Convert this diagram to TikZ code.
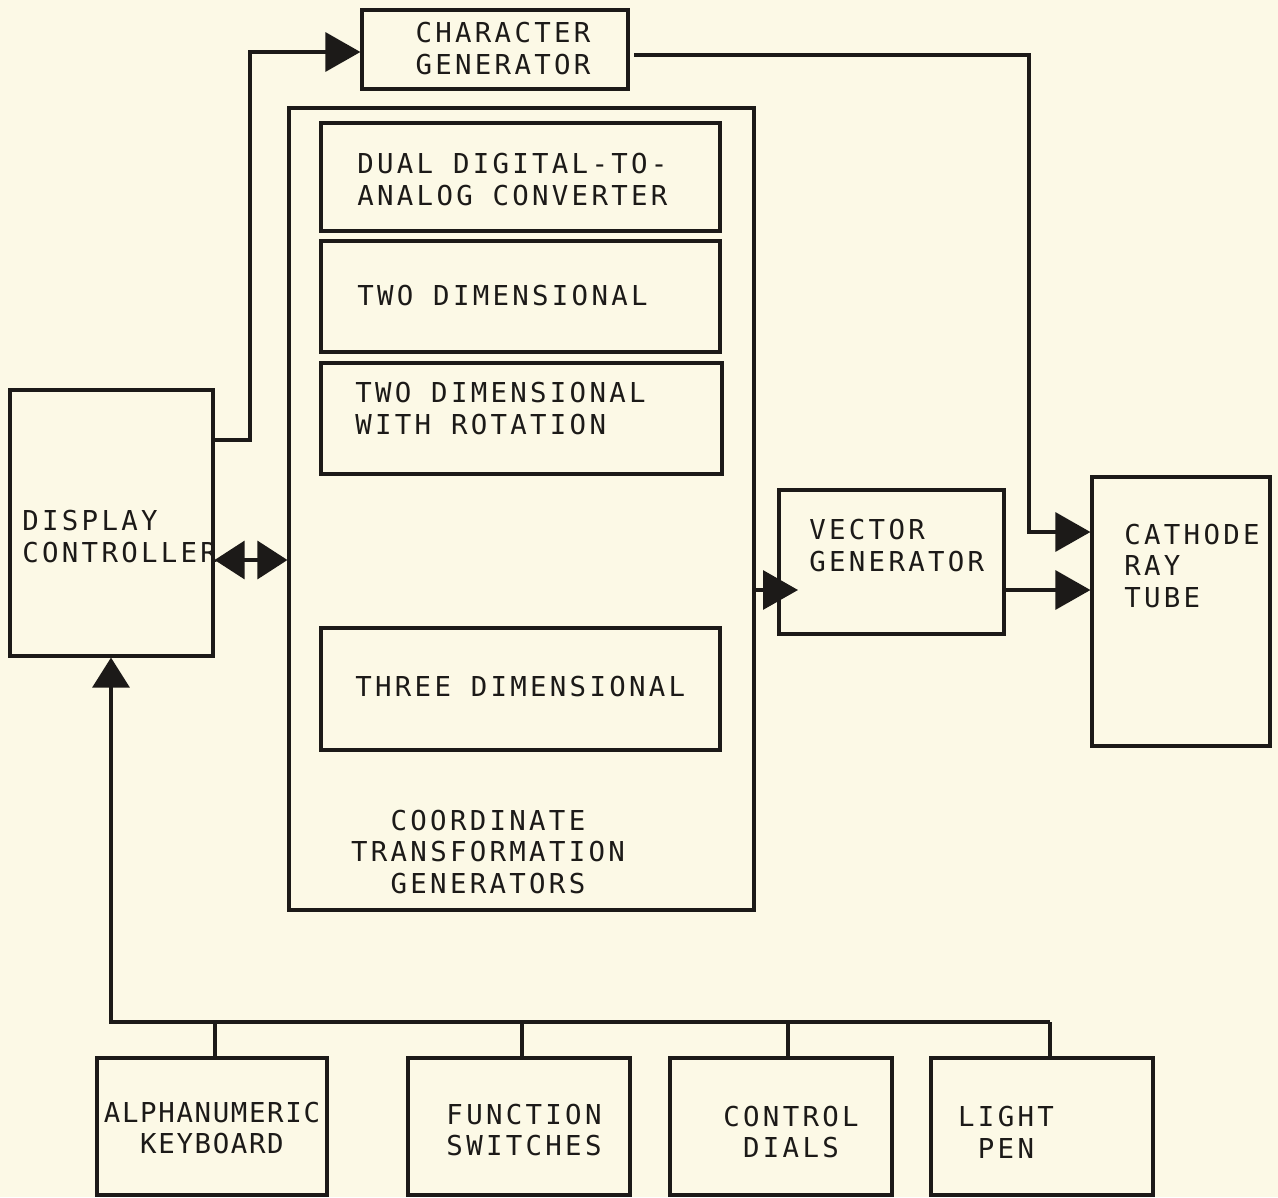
\documentclass[tikz,border=0pt]{standalone}
\usepackage{fontspec}
\newfontfamily\plotfont[LetterSpace=12]{DejaVu Sans Mono}
\usetikzlibrary{arrows.meta,fit}
\definecolor{paper}{RGB}{252,249,230}
\definecolor{ink}{RGB}{28,26,24}
\begin{document}
\begin{tikzpicture}[x=0.02cm,y=-0.02cm,
  box/.style={draw=ink, line width=1.8pt, inner sep=0pt},
  lbl/.style={font=\plotfont\fontsize{15.6}{18.2}\selectfont, text=ink, inner sep=0pt, align=left},
  wire/.style={draw=ink, line width=1.8pt},
  head/.style={-{Triangle[length=0.7cm,width=0.78cm]}},
  dhead/.style={{Triangle[length=0.6cm,width=0.76cm]}-{Triangle[length=0.6cm,width=0.76cm]}},
  uphead/.style={-{Triangle[length=0.6cm,width=0.74cm]}}]
\fill[paper] (0,0) rectangle (1278,1197);
\useasboundingbox (0,0) rectangle (1278,1197);

% boxes
\node[box, fit={(362,10)(628,89)}] (cg) {};
\node[box, fit={(289,108)(754,910)}] (ct) {};
\node[box, fit={(321,123)(720,231)}] (dac) {};
\node[box, fit={(321,241)(720,352)}] (two) {};
\node[box, fit={(321,363)(722,474)}] (rot) {};
\node[box, fit={(321,628)(720,750)}] (three) {};
\node[box, fit={(10,390)(213,656)}] (dc) {};
\node[box, fit={(779,490)(1004,634)}] (vg) {};
\node[box, fit={(1092,477)(1270,746)}] (crt) {};
\node[box, fit={(97,1058)(327,1195)}] (kb) {};
\node[box, fit={(408,1058)(630,1195)}] (fs) {};
\node[box, fit={(670,1058)(892,1195)}] (cd) {};
\node[box, fit={(931,1058)(1153,1195)}] (lp) {};

% labels
\node[lbl, align=center] (cg-t) at (503,49) {CHARACTER\\GENERATOR};
\node[lbl, anchor=west] (dac-t) at (357,180) {DUAL DIGITAL-TO-\\ANALOG CONVERTER};
\node[lbl, anchor=west] (two-t) at (357,296) {TWO DIMENSIONAL};
\node[lbl, anchor=west] (rot-t) at (355,409) {TWO DIMENSIONAL\\WITH ROTATION};
\node[lbl, anchor=west] (three-t) at (355,687) {THREE DIMENSIONAL};
\node[lbl, align=center] (ct-t) at (488,852) {COORDINATE\\TRANSFORMATION\\GENERATORS};
\node[lbl, anchor=west] (dc-t) at (22,537) {DISPLAY\\CONTROLLER};
\node[lbl, anchor=west] (vg-t) at (809,546) {VECTOR\\GENERATOR};
\node[lbl, anchor=west] (crt-t) at (1124,566) {CATHODE\\RAY\\TUBE};
\node[lbl, align=center, font=\plotfont\addfontfeature{LetterSpace=6}\fontsize{15.6}{18.2}\selectfont] (kb-t) at (212,1128) {ALPHANUMERIC\\KEYBOARD};
\node[lbl, align=center] (fs-t) at (524,1130) {FUNCTION\\SWITCHES};
\node[lbl, align=center] (cd-t) at (791,1132) {CONTROL\\DIALS};
\node[lbl, align=center] (lp-t) at (1006,1132) {LIGHT\\PEN};

% connectors
\coordinate (p1) at (250,440);
\coordinate (p2) at (250,52);
\draw[wire, head] (dc.east |- p1) -- (p1) -- (p2) -- (cg.west |- p2);

\coordinate (q0) at (634,55);
\coordinate (q1) at (1029,55);
\coordinate (q2) at (1029,532);
\draw[wire, head] (q0) -- (q1) -- (q2) -- (crt.west |- q2);

\coordinate (d) at (250,560);
\draw[wire, dhead] (dc.east |- d) -- (ct.west |- d);

\coordinate (vtip) at (798,590);
\draw[wire, head] (ct.east |- vtip) -- (vtip);
\draw[wire, head] (vg.east |- vtip) -- (crt.west |- vtip);

\coordinate (b0) at (111,1022);
\coordinate (b1) at (215,1022);
\coordinate (b2) at (522,1022);
\coordinate (b3) at (788,1022);
\coordinate (b4) at (1050,1022);
\draw[wire, uphead] (b4) -- (b0) -- (dc.south -| b0);
\draw[wire] (kb.north -| b1) -- (b1);
\draw[wire] (fs.north -| b2) -- (b2);
\draw[wire] (cd.north -| b3) -- (b3);
\draw[wire] (lp.north -| b4) -- (b4);
\end{tikzpicture}
\end{document}
